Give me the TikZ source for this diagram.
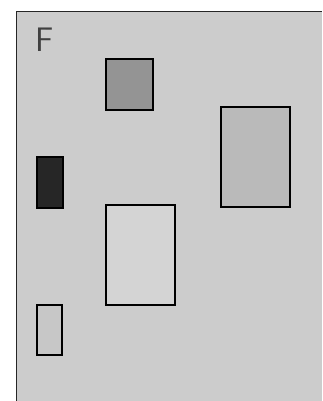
\documentclass[tikz,border=0pt]{standalone}
\usepackage{fontspec}
\setmainfont{Liberation Sans}
\begin{document}
\begin{tikzpicture}[x=1pt,y=-1pt,
  box/.style={draw=black,line width=1.3pt,inner sep=0pt,outer sep=0pt,anchor=north west},
  frameline/.style={draw=black!85,line width=1pt}]
\useasboundingbox (0,0) rectangle (322,401);
\fill[white] (0,0) rectangle (322,401);
\fill[black!20] (16,12) rectangle (322,401);
\draw[frameline] (16,401) -- (16,12) -- (322,12);
\node[anchor=center,font=\fontsize{34}{34}\selectfont\sffamily,text=black!75] (F) at (45,40) {F};
\node[box,fill=black!42,minimum width=47pt,minimum height=51pt] (sq) at (106,59) {};
\node[box,fill=black!27,minimum width=69pt,minimum height=100pt] (right) at (221,107) {};
\node[box,fill=black!85,minimum width=26pt,minimum height=51pt] (dark) at (37,157) {};
\node[box,fill=black!17,minimum width=69pt,minimum height=100pt] (mid) at (106,205) {};
\node[box,fill=black!22,minimum width=25pt,minimum height=50pt] (small) at (37,305) {};
\end{tikzpicture}
\end{document}
